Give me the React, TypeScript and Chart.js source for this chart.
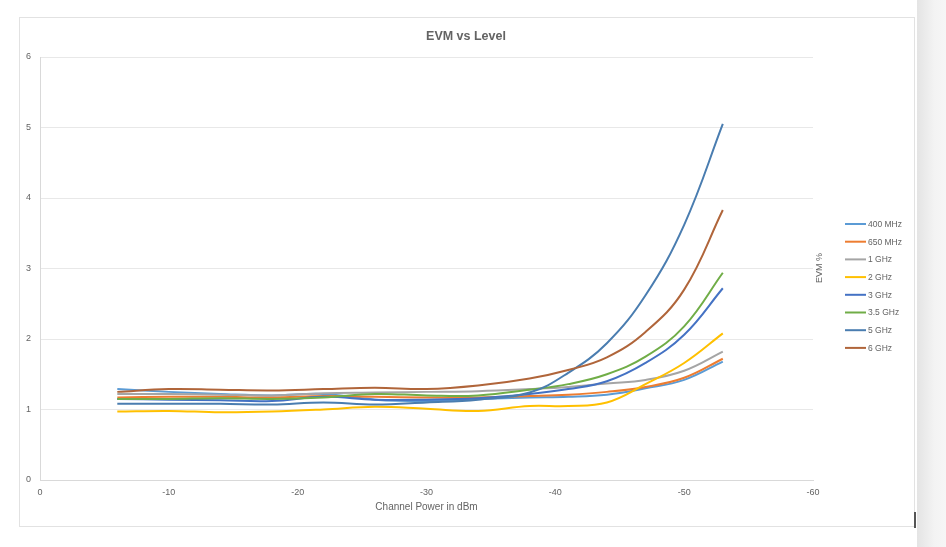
import React, { useEffect, useRef } from 'react';
import { Chart, registerables } from 'chart.js';

Chart.register(...registerables);

const FONT = "'Liberation Sans', Arial, sans-serif";
const TEXT = '#636363';

const xValues = [-6, -10, -14, -18, -22, -26, -30, -34, -38, -41, -44, -47, -50, -53];
const seriesNames = ['400 MHz', '650 MHz', '1 GHz', '2 GHz', '3 GHz', '3.5 GHz', '5 GHz', '6 GHz'];
const seriesColors = ['#5B9BD5', '#ED7D31', '#A5A5A5', '#FFC000', '#4472C4', '#70AD47', '#4A7DB0', '#B0653A'];

const evm400MHz = [1.29, 1.25, 1.22, 1.2, 1.22, 1.14, 1.12, 1.15, 1.17, 1.18, 1.21, 1.3, 1.42, 1.68];
const evm650MHz = [1.17, 1.18, 1.18, 1.17, 1.19, 1.18, 1.17, 1.17, 1.19, 1.21, 1.25, 1.32, 1.45, 1.72];
const evm1GHz = [1.22, 1.22, 1.21, 1.2, 1.23, 1.24, 1.25, 1.26, 1.29, 1.32, 1.37, 1.42, 1.55, 1.82];
const evm2GHz = [0.97, 0.98, 0.96, 0.97, 1.0, 1.04, 1.01, 0.98, 1.05, 1.05, 1.1, 1.36, 1.66, 2.08];
const evm3GHz = [1.15, 1.14, 1.13, 1.12, 1.18, 1.14, 1.14, 1.16, 1.22, 1.29, 1.4, 1.66, 2.06, 2.72];
const evm35GHz = [1.15, 1.15, 1.16, 1.15, 1.17, 1.22, 1.2, 1.2, 1.28, 1.36, 1.5, 1.75, 2.18, 2.94];
const evm5GHz = [1.08, 1.08, 1.08, 1.07, 1.1, 1.07, 1.1, 1.14, 1.24, 1.52, 1.94, 2.62, 3.62, 5.05];
const evm6GHz = [1.25, 1.29, 1.28, 1.27, 1.29, 1.31, 1.29, 1.34, 1.44, 1.56, 1.74, 2.1, 2.7, 3.83];

const seriesValues = [evm400MHz, evm650MHz, evm1GHz, evm2GHz, evm3GHz, evm35GHz, evm5GHz, evm6GHz];

const overlayPlugin = {
  id: 'overlay',
  afterDraw(chart: any) {
    const ctx = chart.ctx;
    ctx.save();
    ctx.fillStyle = TEXT;
    ctx.font = `bold 12.5px ${FONT}`;
    ctx.textAlign = 'center';
    ctx.textBaseline = 'middle';
    ctx.fillText('EVM vs Level', 466, 37);
    ctx.font = `8.5px ${FONT}`;
    ctx.textAlign = 'left';
    chart.data.datasets.forEach((ds: any, i: number) => {
      const y = 224 + i * 17.7;
      ctx.strokeStyle = ds.borderColor;
      ctx.lineWidth = 2;
      ctx.beginPath();
      ctx.moveTo(845, y);
      ctx.lineTo(866, y);
      ctx.stroke();
      ctx.fillStyle = TEXT;
      ctx.fillText(ds.label, 868, y + 0.5);
    });
    ctx.translate(820, 268);
    ctx.rotate(-Math.PI / 2);
    ctx.textAlign = 'center';
    ctx.font = `9px ${FONT}`;
    ctx.fillText('EVM %', 0, 0);
    ctx.restore();
  },
};

export default function App() {
  const ref = useRef<HTMLCanvasElement>(null);

  useEffect(() => {
    if (!ref.current) return;
    const datasets = seriesNames.map((name, i) => ({
      label: name,
      data: xValues.map((x, j) => ({ x, y: seriesValues[i][j] })),
      borderColor: seriesColors[i],
      backgroundColor: seriesColors[i],
      borderWidth: 2,
      pointRadius: 0,
      tension: 0.4,
      fill: false,
      order: seriesNames.length - i,
    }));
    const chart = new Chart(ref.current, {
      type: 'line',
      data: { datasets },
      options: {
        responsive: false,
        animation: false,
        layout: { padding: { left: 0, right: 133, top: 57, bottom: 0 } },
        plugins: { legend: { display: false }, title: { display: false }, tooltip: { enabled: false } },
        scales: {
          x: {
            type: 'linear',
            min: -60,
            max: 0,
            reverse: true,
            ticks: { stepSize: 10, color: TEXT, font: { size: 9, family: FONT }, padding: 7, maxRotation: 0 },
            grid: { display: false, drawTicks: false },
            border: { display: true, color: '#d9d9d9', width: 1 },
            title: {
              display: true,
              text: 'Channel Power in dBm',
              color: TEXT,
              font: { size: 10, family: FONT },
              padding: { top: 0, bottom: 34 },
            },
            afterFit: (s: any) => {
              s.height = 67;
            },
          },
          y: {
            min: 0,
            max: 6,
            ticks: { stepSize: 1, color: TEXT, font: { size: 9, family: FONT }, padding: 9 },
            grid: { color: '#e8e8e8', drawTicks: false },
            border: { display: true, color: '#d9d9d9', width: 1 },
            afterFit: (s: any) => {
              s.width = 40;
            },
          },
        },
      },
      plugins: [overlayPlugin],
    });
    return () => chart.destroy();
  }, []);

  return (
    <div style={{ position: 'fixed', left: 0, top: 0, width: 946, height: 547, background: '#ffffff', overflow: 'hidden' }}>
      <div
        style={{
          position: 'absolute',
          left: 19,
          top: 17,
          width: 896,
          height: 510,
          border: '1px solid #e2e2e2',
          boxSizing: 'border-box',
        }}
      />
      <div
        style={{
          position: 'absolute',
          left: 917,
          top: 0,
          width: 29,
          height: 547,
          background: 'linear-gradient(to right, #e4e4e4, #f3f3f3 60%, #f6f6f6)',
        }}
      />
      <div style={{ position: 'absolute', left: 914, top: 512, width: 2, height: 16, background: '#555555' }} />
      <canvas ref={ref} width={946} height={547} style={{ position: 'absolute', left: 0, top: 0, width: 946, height: 547 }} />
    </div>
  );
}
